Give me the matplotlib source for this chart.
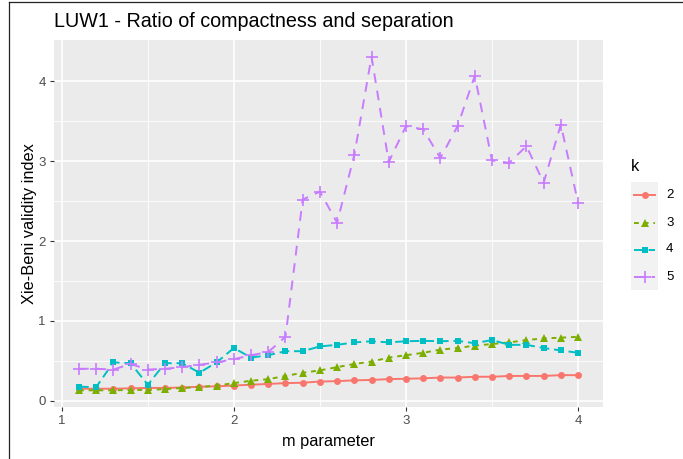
import matplotlib
matplotlib.use("Agg")
import matplotlib.pyplot as plt
from matplotlib.lines import Line2D
import numpy as np

plt.rcParams["font.family"] = ["Liberation Sans", "DejaVu Sans"]

# m parameter values and Xie-Beni index per number of clusters k
m_values = [1.1, 1.2, 1.3, 1.4, 1.5, 1.6, 1.7, 1.8, 1.9, 2.0,
            2.1, 2.2, 2.3, 2.4, 2.5, 2.6, 2.7, 2.8, 2.9, 3.0,
            3.1, 3.2, 3.3, 3.4, 3.5, 3.6, 3.7, 3.8, 3.9, 4.0]
xb_k2 = [0.15, 0.15, 0.15, 0.155, 0.16, 0.16, 0.165, 0.175, 0.18, 0.19,
         0.20, 0.21, 0.22, 0.225, 0.24, 0.245, 0.255, 0.26, 0.27, 0.275,
         0.28, 0.29, 0.29, 0.30, 0.30, 0.31, 0.31, 0.31, 0.32, 0.32]
xb_k3 = [0.13, 0.13, 0.13, 0.135, 0.135, 0.145, 0.16, 0.17, 0.19, 0.22,
         0.25, 0.27, 0.31, 0.35, 0.38, 0.42, 0.46, 0.49, 0.54, 0.57,
         0.60, 0.64, 0.66, 0.69, 0.71, 0.73, 0.76, 0.78, 0.79, 0.80]
xb_k4 = [0.175, 0.17, 0.48, 0.47, 0.20, 0.47, 0.47, 0.35, 0.48, 0.66,
         0.54, 0.57, 0.62, 0.62, 0.68, 0.70, 0.73, 0.745, 0.73, 0.745,
         0.75, 0.745, 0.75, 0.72, 0.76, 0.70, 0.70, 0.66, 0.63, 0.60]
xb_k5 = [0.40, 0.40, 0.39, 0.46, 0.39, 0.40, 0.42, 0.45, 0.48, 0.52,
         0.57, 0.61, 0.80, 2.52, 2.62, 2.23, 3.08, 4.31, 2.99, 3.44,
         3.40, 3.04, 3.44, 4.07, 3.01, 2.98, 3.19, 2.73, 3.46, 2.48]

k_labels = ["2", "3", "4", "5"]
series = [xb_k2, xb_k3, xb_k4, xb_k5]
colors = ["#F8766D", "#7CAE00", "#00BFC4", "#C77CFF"]
markers = ["o", "^", "s", "+"]
msizes = [5, 6, 5, 8]
dashes = [None, (2.5, 2.5), (5, 2.5), (5, 4)]

W, H = 683, 459
fig = plt.figure(figsize=(W / 100, H / 100), dpi=100)

# panel placement (pixels)
pl, pr, pt, pb = 54, 603, 40, 407
ax = fig.add_axes([pl / W, 1 - pb / H, (pr - pl) / W, (pb - pt) / H])
ax.set_facecolor("#EBEBEB")

for vals, col, mk, ms, ds in zip(series, colors, markers, msizes, dashes):
    line, = ax.plot(m_values, vals, color=col, lw=1.4, marker=mk, ms=ms,
                    mew=1.2 if mk == "+" else 0, mec=col)
    if ds is not None:
        line.set_dashes(ds)

allv = np.concatenate([np.array(s) for s in series])
ymin, ymax = allv.min(), allv.max()
ey = (ymax - ymin) * 0.05
ax.set_ylim(ymin - ey, ymax + ey)
xmin, xmax = min(m_values), max(m_values)
ex = (xmax - xmin) * 0.05
ax.set_xlim(xmin - ex, xmax + ex)

ax.set_xticks([1, 2, 3, 4])
ax.set_yticks([0, 1, 2, 3, 4])
ax.set_xticks([1.5, 2.5, 3.5], minor=True)
ax.set_yticks([0.5, 1.5, 2.5, 3.5], minor=True)
ax.grid(True, which="major", color="white", lw=1.2)
ax.grid(True, which="minor", color="white", lw=0.6)
ax.set_axisbelow(True)
for s in ax.spines.values():
    s.set_visible(False)
ax.tick_params(which="major", length=3, width=0.8, color="#333333",
               labelsize=9.5, labelcolor="#4D4D4D", pad=3)
ax.tick_params(which="minor", length=0)

ax.set_xlabel("m parameter", fontsize=11.8, labelpad=5)
ax.set_ylabel("Xie-Beni validity index", fontsize=11.8, labelpad=1)

fig.text(pl / W, 1 - 27 / H, "LUW1 - Ratio of compactness and separation",
         fontsize=14.2, va="baseline", ha="left")

# legend drawn as small key panel
kl, kr, kt, kb = 631, 658, 182, 290
lax = fig.add_axes([kl / W, 1 - kb / H, (kr - kl) / W, (kb - kt) / H])
lax.set_facecolor("#F2F2F2")
lax.set_xlim(0, 1)
lax.set_ylim(0, len(k_labels))
lax.set_xticks([])
lax.set_yticks([])
for s in lax.spines.values():
    s.set_visible(False)
for i, (lab, col, mk, ms, ds) in enumerate(zip(k_labels, colors, markers, msizes, dashes)):
    yy = len(k_labels) - 0.5 - i
    ln, = lax.plot([0.1, 0.9], [yy, yy], color=col, lw=1.4)
    if ds is not None:
        ln.set_dashes(ds)
    lax.plot([0.5], [yy], color=col, marker=mk, ms=ms,
             mew=1.2 if mk == "+" else 0, mec=col)
    lax.text(1.3, yy, lab, fontsize=9.5, va="center", ha="left",
             clip_on=False, color="black")
fig.text(kl / W, 1 - 171 / H, "k", fontsize=11.8, va="baseline", ha="left")

# screenshot frame lines
fig.add_artist(Line2D([9 / W, 9 / W], [0, 1 - 1.5 / H], color="#222222", lw=0.9))
fig.add_artist(Line2D([9 / W, 1], [1 - 1.5 / H, 1 - 1.5 / H], color="#222222", lw=0.9))

fig.savefig("out.png", dpi=100)
